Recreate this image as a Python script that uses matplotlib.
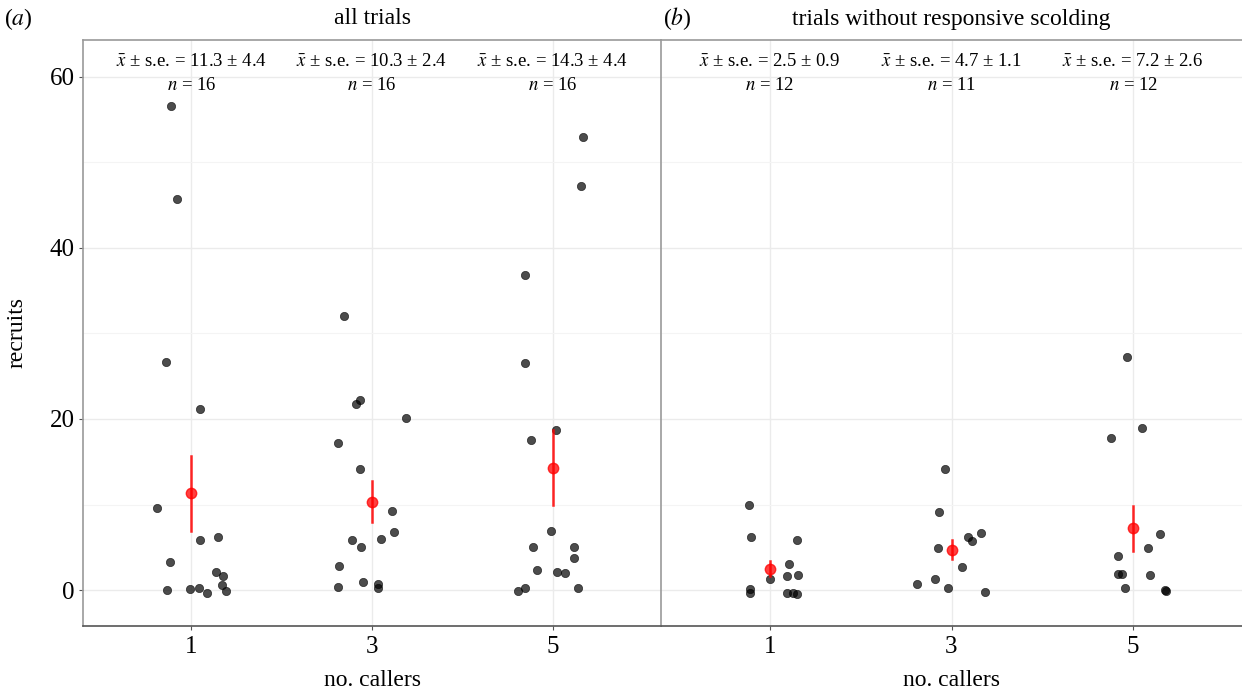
import numpy as np
import matplotlib
matplotlib.use('Agg')
import matplotlib.pyplot as plt

plt.rcParams['font.family'] = ['Liberation Serif', 'DejaVu Serif']
plt.rcParams['mathtext.fontset'] = 'stix'

callers = ['1', '3', '5']

# panel (a): all trials
all_vals = [
    [56.6, 45.7, 26.7, 21.2, 9.6, 5.8, 6.2, 3.3, 2.1, 1.7, 0.6, 0.0, 0.1, 0.2, -0.4, -0.1],
    [32.0, 22.2, 21.7, 20.1, 17.2, 14.2, 9.3, 6.8, 6.0, 5.8, 5.0, 2.8, 0.9, 0.7, 0.2, 0.4],
    [53.0, 47.2, 36.8, 26.5, 18.7, 17.6, 6.9, 5.0, 5.0, 3.7, 2.3, 2.1, 2.0, -0.1, 0.2, 0.3],
]
all_jit = [
    [-0.114, -0.079, -0.141, 0.046, -0.192, 0.046, 0.150, -0.117, 0.137, 0.174, 0.167, -0.134, -0.007, 0.042, 0.084, 0.189],
    [-0.154, -0.068, -0.090, 0.190, -0.187, -0.068, 0.108, 0.123, 0.051, -0.112, -0.060, -0.181, -0.049, 0.031, 0.031, -0.189],
    [0.167, 0.156, -0.154, -0.154, 0.020, -0.117, -0.009, -0.110, 0.117, 0.119, -0.088, 0.022, 0.066, -0.194, -0.152, 0.141],
]
all_mean = [11.3, 10.3, 14.3]
all_se = [4.4, 2.4, 4.4]
all_n = [16, 16, 16]

# panel (b): trials without responsive scolding
nos_vals = [
    [10.0, 6.2, 5.9, 3.0, 1.8, 1.6, 1.3, 0.1, -0.3, -0.3, -0.4, -0.5],
    [14.1, 9.1, 6.7, 6.2, 5.7, 4.9, 2.7, 1.3, 0.7, 0.3, -0.2],
    [27.2, 18.9, 17.8, 6.6, 4.9, 4.0, 1.9, 1.9, 1.8, 0.2, 0.0, -0.1],
]
nos_jit = [
    [-0.115, -0.104, 0.147, 0.103, 0.156, 0.092, 0.002, -0.112, -0.108, 0.095, 0.128, 0.147],
    [-0.035, -0.068, 0.161, 0.090, 0.112, -0.075, 0.057, -0.093, -0.189, -0.020, 0.183],
    [-0.031, 0.049, -0.123, 0.150, 0.084, -0.081, -0.081, -0.059, 0.092, -0.044, 0.178, 0.179],
]
nos_mean = [2.5, 4.7, 7.2]
nos_se = [0.9, 1.1, 2.6]
nos_n = [12, 11, 12]

fig = plt.figure(figsize=(12.42, 6.91), dpi=100)
ax_a = fig.add_axes([83/1242, 65/691, 578/1242, 586/691])
ax_b = fig.add_axes([661/1242, 65/691, 581/1242, 586/691])


def draw_panel(ax, vals, jit, means, ses, ns, title, show_y):
    pos = np.arange(1, len(callers) + 1)
    ax.set_xlim(0.4, 3.6)
    ax.set_ylim(-4.2, 64.3)
    ax.set_yticks([0, 20, 40, 60])
    ax.set_yticks([10, 30, 50], minor=True)
    ax.set_xticks(pos)
    ax.set_xticklabels(callers)
    ax.grid(which='major', color='#ebebeb', lw=1.0, zorder=0)
    ax.grid(which='minor', axis='y', color='#f4f4f4', lw=0.8, zorder=0)
    ax.set_axisbelow(True)
    for i, p in enumerate(pos):
        x = p + np.array(jit[i])
        ax.scatter(x, vals[i], s=36, color='black', alpha=0.7,
                   edgecolors='black', linewidths=0.5, zorder=3)
        ax.plot([p, p], [means[i] - ses[i], means[i] + ses[i]],
                color='red', lw=1.8, alpha=0.85, zorder=4)
        ax.plot(p, means[i], 'o', color='red', ms=7.5, alpha=0.75, zorder=5)
        ax.text(p, 61.8, r'$\bar{x}$ ± s.e. = %.1f ± %.1f' % (means[i], ses[i]),
                ha='center', va='center', fontsize=13.5)
        ax.text(p, 59.0, r'$n$ = %d' % ns[i], ha='center', va='center', fontsize=13.5)
    ax.set_xlabel('no. callers', fontsize=17, labelpad=9)
    ax.tick_params(axis='x', labelsize=18, length=3, color='#555555', pad=4)
    ax.tick_params(axis='y', which='minor', length=0)
    if show_y:
        ax.tick_params(axis='y', labelsize=18, length=3, color='#555555', pad=3)
        ax.set_ylabel('recruits', fontsize=17, labelpad=16)
    else:
        ax.tick_params(axis='y', which='both', length=0, labelleft=False)
    ax.spines['right'].set_visible(False)
    ax.spines['left'].set_color('#9a9a9a')
    ax.spines['top'].set_color('#9a9a9a')
    ax.spines['bottom'].set_color('#555555')
    for s in ax.spines.values():
        s.set_linewidth(1.2)
    ax.text(0.5, 1.0 + 21/586, title, transform=ax.transAxes,
            ha='center', va='center', fontsize=17)
    return ax


draw_panel(ax_a, all_vals, all_jit, all_mean, all_se, all_n, 'all trials', True)
draw_panel(ax_b, nos_vals, nos_jit, nos_mean, nos_se, nos_n,
           'trials without responsive scolding', False)

fig.text(18/1242, 1 - 19/691, r'($a$)', ha='center', va='center', fontsize=17)
fig.text(677/1242, 1 - 19/691, r'($b$)', ha='center', va='center', fontsize=17)

fig.savefig('out.png', dpi=100)
